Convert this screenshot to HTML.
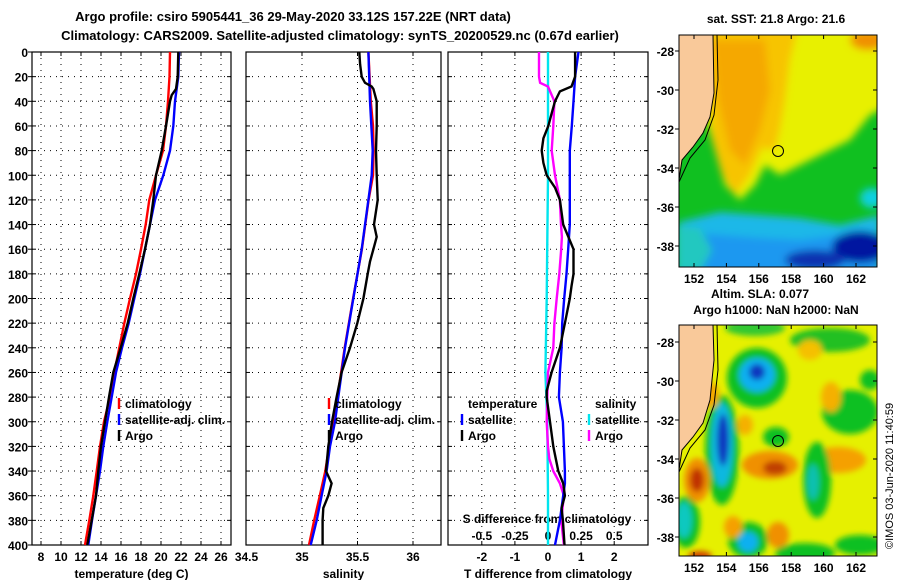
<!DOCTYPE html>
<html><head><meta charset="utf-8">
<style>
html,body{margin:0;padding:0;background:#fff;}
svg{display:block;font-family:"Liberation Sans",Arial,sans-serif;font-weight:bold;}
</style></head>
<body>
<svg id="chart" width="900" height="580" viewBox="0 0 900 580" xmlns="http://www.w3.org/2000/svg">
<defs>
<filter id="blur3" x="-30%" y="-30%" width="160%" height="160%"><feGaussianBlur stdDeviation="3"/></filter>
<filter id="blur4" x="-30%" y="-30%" width="160%" height="160%"><feGaussianBlur stdDeviation="4"/></filter>
<clipPath id="clipTop"><rect x="679" y="35" width="198" height="232"/></clipPath>
<clipPath id="clipBot"><rect x="679" y="325" width="198" height="231"/></clipPath>
</defs>
<rect x="0" y="0" width="900" height="580" fill="#fff"/>
<text x="293" y="21" font-size="13" text-anchor="middle">Argo profile: csiro 5905441_36 29-May-2020 33.12S 157.22E (NRT data)</text>
<text x="340" y="40" font-size="13" text-anchor="middle">Climatology: CARS2009. Satellite-adjusted climatology: synTS_20200529.nc (0.67d earlier)</text>
<g id="panels"></g>

<!-- Top SST map -->
<g>
 <g clip-path="url(#clipTop)">
  <rect x="679" y="35" width="198" height="232" fill="#10c020"/>
  <g filter="url(#blur4)">
   <polygon points="700,20 890,20 890,105 870,115 850,140 830,150 800,165 780,175 765,165 755,185 740,200 725,185 715,150 700,100" fill="#e8f000"/>
   <polygon points="705,20 800,20 790,60 785,100 780,130 775,150 762,148 750,175 735,195 722,175 712,140 708,90" fill="#f7c400"/>
   <polygon points="712,40 765,40 770,90 760,130 745,165 730,150 718,100" fill="#f5a800"/>
   <ellipse cx="868" cy="40" rx="18" ry="10" fill="#f09000"/>
   <polygon points="679,222 720,212 760,215 800,218 840,225 880,215 880,275 679,275" fill="#1cb8e8"/>
   <polygon points="679,232 720,235 760,238 800,240 840,235 880,236 880,275 679,275" fill="#1a98f0"/>
   <polygon points="676,225 700,228 712,250 700,272 676,272" fill="#20c8c0"/>
   <ellipse cx="860" cy="247" rx="28" ry="16" fill="#0018a0"/>
   <ellipse cx="815" cy="260" rx="30" ry="10" fill="#0830b0"/>
   <ellipse cx="872" cy="198" rx="12" ry="10" fill="#10d0e0"/>
  </g>
  <polygon points="679,35 713,35 714,93 710,117 703,133 693,147 682,160 679,180" fill="#f9c99a" stroke="#000" stroke-width="1"/>
  <polyline points="717,35 718,80 714,115 705,140 690,158 679,182" fill="none" stroke="#000" stroke-width="1"/>
  <circle cx="778" cy="151" r="5.5" fill="none" stroke="#000" stroke-width="1"/>
 </g>
 <rect x="679" y="35" width="198" height="232" fill="none" stroke="#000" stroke-width="1"/>
 <text x="776" y="23" font-size="12" text-anchor="middle">sat. SST: 21.8 Argo: 21.6</text>
 <text x="760" y="298" font-size="12" text-anchor="middle">Altim. SLA: 0.077</text>
 <text x="776" y="314" font-size="12" text-anchor="middle">Argo h1000: NaN h2000: NaN</text>
 <g id="topMapTicks"></g>
</g>

<!-- Bottom SLA map -->
<g>
 <g clip-path="url(#clipBot)">
  <rect x="679" y="325" width="198" height="231" fill="#e6f000"/>
  <g filter="url(#blur3)">
   <ellipse cx="755" cy="328" rx="30" ry="8" fill="#30c830"/>
   <ellipse cx="830" cy="340" rx="40" ry="12" fill="#20c020"/>
   <ellipse cx="757" cy="378" rx="30" ry="30" fill="#10c020"/>
   <ellipse cx="757" cy="375" rx="18" ry="17" fill="#10b0f0"/>
   <ellipse cx="757" cy="372" rx="8" ry="8" fill="#0838c0"/>
   <ellipse cx="722" cy="450" rx="17" ry="55" fill="#10c020"/>
   <ellipse cx="722" cy="445" rx="11" ry="42" fill="#10b8e0"/>
   <ellipse cx="723" cy="440" rx="6" ry="26" fill="#0838c0"/>
   <ellipse cx="748" cy="540" rx="20" ry="18" fill="#10c020"/>
   <ellipse cx="748" cy="542" rx="10" ry="10" fill="#10b0f0"/>
   <ellipse cx="686" cy="522" rx="14" ry="26" fill="#10c020"/>
   <ellipse cx="684" cy="520" rx="8" ry="18" fill="#10c8c0"/>
   <ellipse cx="697" cy="480" rx="13" ry="22" fill="#f09000"/>
   <ellipse cx="697" cy="480" rx="7" ry="12" fill="#c03000"/>
   <ellipse cx="770" cy="465" rx="28" ry="14" fill="#f09000"/>
   <ellipse cx="775" cy="468" rx="12" ry="7" fill="#c04000"/>
   <ellipse cx="838" cy="460" rx="28" ry="13" fill="#f5a000"/>
   <ellipse cx="817" cy="480" rx="14" ry="38" fill="#10c020"/>
   <ellipse cx="813" cy="482" rx="6" ry="18" fill="#10c0b0"/>
   <ellipse cx="850" cy="412" rx="28" ry="22" fill="#10c020"/>
   <ellipse cx="870" cy="380" rx="10" ry="10" fill="#10c020"/>
   <ellipse cx="776" cy="437" rx="13" ry="10" fill="#10c020"/>
   <ellipse cx="778" cy="535" rx="11" ry="13" fill="#f09000"/>
   <ellipse cx="733" cy="527" rx="9" ry="11" fill="#f5a000"/>
   <ellipse cx="805" cy="553" rx="30" ry="10" fill="#10c020"/>
   <ellipse cx="860" cy="545" rx="25" ry="10" fill="#10c020"/>
   <ellipse cx="711" cy="395" rx="8" ry="13" fill="#f5a800"/>
   <ellipse cx="831" cy="397" rx="10" ry="15" fill="#f5b000"/>
   <ellipse cx="810" cy="350" rx="12" ry="10" fill="#f5c000"/>
   <ellipse cx="700" cy="556" rx="12" ry="5" fill="#d04000"/>
   <ellipse cx="745" y="0" cy="425" rx="8" ry="10" fill="#f5b000"/>
  </g>
  <polygon points="679,325 713,325 714,360 710,400 703,423 693,437 682,450 679,470" fill="#f9c99a" stroke="#000" stroke-width="1"/>
  <polyline points="717,325 718,370 714,405 705,430 690,448 679,472" fill="none" stroke="#000" stroke-width="1"/>
  <circle cx="778" cy="441" r="5.5" fill="none" stroke="#000" stroke-width="1"/>
 </g>
 <rect x="679" y="325" width="198" height="231" fill="none" stroke="#000" stroke-width="1"/>
 <g id="botMapTicks"></g>
 <text transform="translate(893,549) rotate(-90)" font-size="11" font-weight="normal">©IMOS 03-Jun-2020 11:40:59</text>
</g>

<script>
// ---------------- data ----------------
const depthTicks = [0,20,40,60,80,100,120,140,160,180,200,220,240,260,280,300,320,340,360,380,400];
const tempTicks = [8,10,12,14,16,18,20,22,24,26];
const salTicks = [34.5,35,35.5,36];
const salTickLabels = ["34.5","35","35.5","36"];
const dTTicks = [-2,-1,0,1,2];
const dSTicks = [-0.5,-0.25,0,0.25,0.5];
const dSTickLabels = ["-0.5","-0.25","0","0.25","0.5"];

const tClimDepth = [0,20,40,60,80,100,120,140,160,180,200,220,240,260,280,300,320,340,360,380,400];
const tClimVal   = [20.9,20.85,20.7,20.5,20.2,19.5,18.83,18.47,18.0,17.5,16.9,16.33,15.83,15.33,14.9,14.3,13.9,13.57,13.23,12.83,12.4];
const tSatDepth  = [0,20,40,60,80,100,120,140,160,180,200,220,240,260,280,300,320,340,360,380,400];
const tSatVal    = [21.8,21.73,21.4,21.23,20.9,20.23,19.4,18.9,18.4,17.9,17.33,16.77,16.1,15.5,15.07,14.63,14.23,13.9,13.5,13.1,12.73];
const tArgoDepth = [0,20,30,35,40,60,80,100,120,140,160,180,200,220,240,260,280,300,320,340,360,380,400];
const tArgoVal   = [21.73,21.67,21.5,21.07,20.9,20.5,20.07,19.5,19.23,18.9,18.4,17.83,17.23,16.67,15.97,15.23,14.8,14.4,14.0,13.73,13.5,13.07,12.63];

const sClimDepth = [0,40,60,80,100,120,160,200,240,280,300,320,340,360,380,400];
const sClimVal   = [35.598,35.62,35.64,35.645,35.64,35.6,35.54,35.46,35.385,35.32,35.29,35.245,35.21,35.16,35.11,35.063];
const sSatDepth  = [0,40,80,100,120,160,200,240,280,300,320,340,360,380,400];
const sSatVal    = [35.598,35.613,35.637,35.628,35.598,35.538,35.462,35.387,35.327,35.297,35.252,35.222,35.177,35.132,35.078];
const sArgoDepth = [0,10,20,25,28,30,40,60,80,100,120,140,150,160,170,180,200,220,240,260,280,300,320,340,350,360,370,380,400];
const sArgoVal   = [35.516,35.523,35.538,35.568,35.628,35.643,35.673,35.673,35.667,35.673,35.682,35.649,35.673,35.643,35.613,35.592,35.553,35.498,35.432,35.357,35.312,35.27,35.237,35.216,35.267,35.237,35.192,35.186,35.186];

const dTSatDepth = [0,20,40,60,80,100,140,160,180,200,220,240,260,280,300,320,340,350,360,380,400];
const dTSatVal   = [0.92,0.82,0.77,0.72,0.66,0.66,0.66,0.61,0.56,0.49,0.43,0.41,0.36,0.33,0.45,0.48,0.51,0.51,0.46,0.36,0.21];
const dTArgoDepth = [0,20,28,32,40,50,60,70,80,90,100,110,120,140,160,180,190,200,220,240,260,275,280,300,320,340,350,360,370,380,400];
const dTArgoVal   = [0.82,0.82,0.71,0.36,0.21,0.11,0.01,-0.14,-0.19,-0.14,-0.04,0.21,0.36,0.46,0.77,0.77,0.71,0.66,0.51,0.36,0.11,-0.04,-0.04,0.06,0.16,0.31,0.46,0.51,0.41,0.45,0.5];
const dSSatDepth = [0,100,200,260,300,360,400];
const dSSatVal   = [0.0,0.0,-0.01,-0.02,-0.005,0.0,0.0];
const dSArgoDepth = [0,20,25,28,40,60,80,100,120,140,150,160,180,200,220,240,260,280,300,320,330,340,350,360,380,400];
const dSArgoVal   = [-0.068,-0.068,-0.06,0.0,0.048,0.04,0.028,0.053,0.09,0.098,0.105,0.10,0.085,0.066,0.048,0.04,0.0,-0.005,-0.01,0.0,0.01,0.04,0.09,0.12,0.10,0.12];

const lonTicks = [152,154,156,158,160,162];
const latTicks = [-28,-30,-32,-34,-36,-38];

// ---------------- layout / scales ----------------
const NS="http://www.w3.org/2000/svg";
const Y0=52, Y1=545;
const yD = d => Y0 + (d/400)*(Y1-Y0);
const P1={x0:32,x1:231}, P2={x0:246,x1:441}, P3={x0:448,x1:648};
const xT = t => 41 + (t-8)*10;
const xS = s => 302 + (s-35)*111;
const xDT = t => 548 + t*33.1;
const xDS = s => 548 + s*132.4;
const root=document.getElementById('panels');

function mk(tag, attrs, parent){
  const e=document.createElementNS(NS,tag);
  for(const k in attrs) e.setAttribute(k,attrs[k]);
  (parent||root).appendChild(e); return e;
}
function txt(x,y,s,size,anchor,parent){
  const t=mk('text',{x:x,y:y,'font-size':size,'text-anchor':anchor},parent);
  t.textContent=s; return t;
}

function panel(P, name, vTicks, sx, title){
  const g=mk('g',{});
  
  
  depthTicks.forEach(d=>{
    const l=mk('line',{x1:P.x0,x2:P.x1,y1:yD(d),y2:yD(d),stroke:'#000','stroke-width':1,'stroke-dasharray':'1,5'},g);
    
    
    mk('line',{x1:P.x0,x2:P.x0+4,y1:yD(d),y2:yD(d),stroke:'#000'},g);
    mk('line',{x1:P.x1-4,x2:P.x1,y1:yD(d),y2:yD(d),stroke:'#000'},g);
  });
  vTicks.forEach(v=>{
    const x=sx(v);
    if(x<=P.x0+1||x>=P.x1-1) return;
    const l=mk('line',{x1:x,x2:x,y1:Y0,y2:Y1,stroke:'#000','stroke-width':1,'stroke-dasharray':'1,5'},g);
    
    
    mk('line',{x1:x,x2:x,y1:Y1-4,y2:Y1,stroke:'#000'},g);
    mk('line',{x1:x,x2:x,y1:Y0,y2:Y0+4,stroke:'#000'},g);
  });
  const r=mk('rect',{x:P.x0,y:Y0,width:P.x1-P.x0,height:Y1-Y0,fill:'none',stroke:'#000','stroke-width':1.2},g);
  
  
  const tt=txt((P.x0+P.x1)/2, 578, title, 12, 'middle', g);
  
  
  return g;
}
function series(g, depths, vals, sx, color, name){
  const pts=depths.map((d,i)=>sx(vals[i]).toFixed(1)+','+yD(d).toFixed(1)).join(' ');
  const p=mk('polyline',{points:pts,fill:'none',stroke:color,'stroke-width':2.4,'stroke-linejoin':'miter'},g);
  
  
}
function legendEntry(g,x,y,color,label){
  const e=mk('g',{},g);
  
  
  mk('line',{x1:x,x2:x,y1:y-10,y2:y+1,stroke:color,'stroke-width':2.4},e);
  txt(x+6,y,label,12,'start',e);
}

const yl=mk('g',{});


depthTicks.forEach(d=>{ txt(28, yD(d)+5, String(d), 12, 'end', yl); mk('line',{x1:28,x2:32,y1:yD(d),y2:yD(d),stroke:'#000'},yl); });

const g1=panel(P1,'temperature-panel',tempTicks,xT,'temperature (deg C)');
tempTicks.forEach(t=>txt(xT(t),561,String(t),12,'middle',g1));
series(g1,tClimDepth,tClimVal,xT,'#ff0000','temperature-climatology-line');
series(g1,tSatDepth,tSatVal,xT,'#0000ff','temperature-satellite-line');
series(g1,tArgoDepth,tArgoVal,xT,'#000000','temperature-argo-line');
legendEntry(g1,119,408,'#ff0000','climatology');
legendEntry(g1,119,424,'#0000ff','satellite-adj. clim.');
legendEntry(g1,119,440,'#000000','Argo');

const g2=panel(P2,'salinity-panel',salTicks,xS,'salinity');
salTicks.forEach((s,i)=>txt(xS(s),561,salTickLabels[i],12,'middle',g2));
series(g2,sClimDepth,sClimVal,xS,'#ff0000','salinity-climatology-line');
series(g2,sSatDepth,sSatVal,xS,'#0000ff','salinity-satellite-line');
series(g2,sArgoDepth,sArgoVal,xS,'#000000','salinity-argo-line');
legendEntry(g2,329,408,'#ff0000','climatology');
legendEntry(g2,329,424,'#0000ff','satellite-adj. clim.');
legendEntry(g2,329,440,'#000000','Argo');

const g3=panel(P3,'difference-panel',dTTicks,xDT,'T difference from climatology');
dTTicks.forEach(t=>txt(xDT(t),561,String(t),12,'middle',g3));
dSTicks.forEach((s,i)=>txt(xDS(s),540,dSTickLabels[i],12,'middle',g3));
const st=txt(547,523,'S difference from climatology',12,'middle',g3);


series(g3,dSSatDepth,dSSatVal,xDS,'#00e5ee','salinity-diff-satellite-line');
series(g3,dSArgoDepth,dSArgoVal,xDS,'#ff00ff','salinity-diff-argo-line');
series(g3,dTSatDepth,dTSatVal,xDT,'#0000ff','temperature-diff-satellite-line');
series(g3,dTArgoDepth,dTArgoVal,xDT,'#000000','temperature-diff-argo-line');
txt(468,408,'temperature',12,'start',g3);
legendEntry(g3,462,424,'#0000ff','satellite');
legendEntry(g3,462,440,'#000000','Argo');
txt(595,408,'salinity',12,'start',g3);
legendEntry(g3,589,424,'#00e5ee','satellite');
legendEntry(g3,589,440,'#ff00ff','Argo');

function mapTicks(id, yTop, yBot, latY0, latStep){
  const g=document.getElementById(id);
  const xLon = lon => 694 + (lon-152)*16.2;
  const yLat = lat => latY0 + ((-28)-lat)/2*latStep;
  lonTicks.forEach(lon=>{
    const x=xLon(lon);
    mk('line',{x1:x,x2:x,y1:yBot-4,y2:yBot,stroke:'#000'},g);
    mk('line',{x1:x,x2:x,y1:yTop,y2:yTop+4,stroke:'#000'},g);
    const t=txt(x,yBot+16,String(lon),12,'middle',g);
    
    
  });
  latTicks.forEach(lat=>{
    const y=yLat(lat);
    mk('line',{x1:675,x2:679,y1:y,y2:y,stroke:'#000'},g);
    mk('line',{x1:873,x2:877,y1:y,y2:y,stroke:'#000'},g);
    const t=txt(674,y+5,String(lat),12,'end',g);
    
    
  });
}
mapTicks('topMapTicks',35,267,51,39);
mapTicks('botMapTicks',325,556,342,39);
</script>
</svg>
</body></html>
